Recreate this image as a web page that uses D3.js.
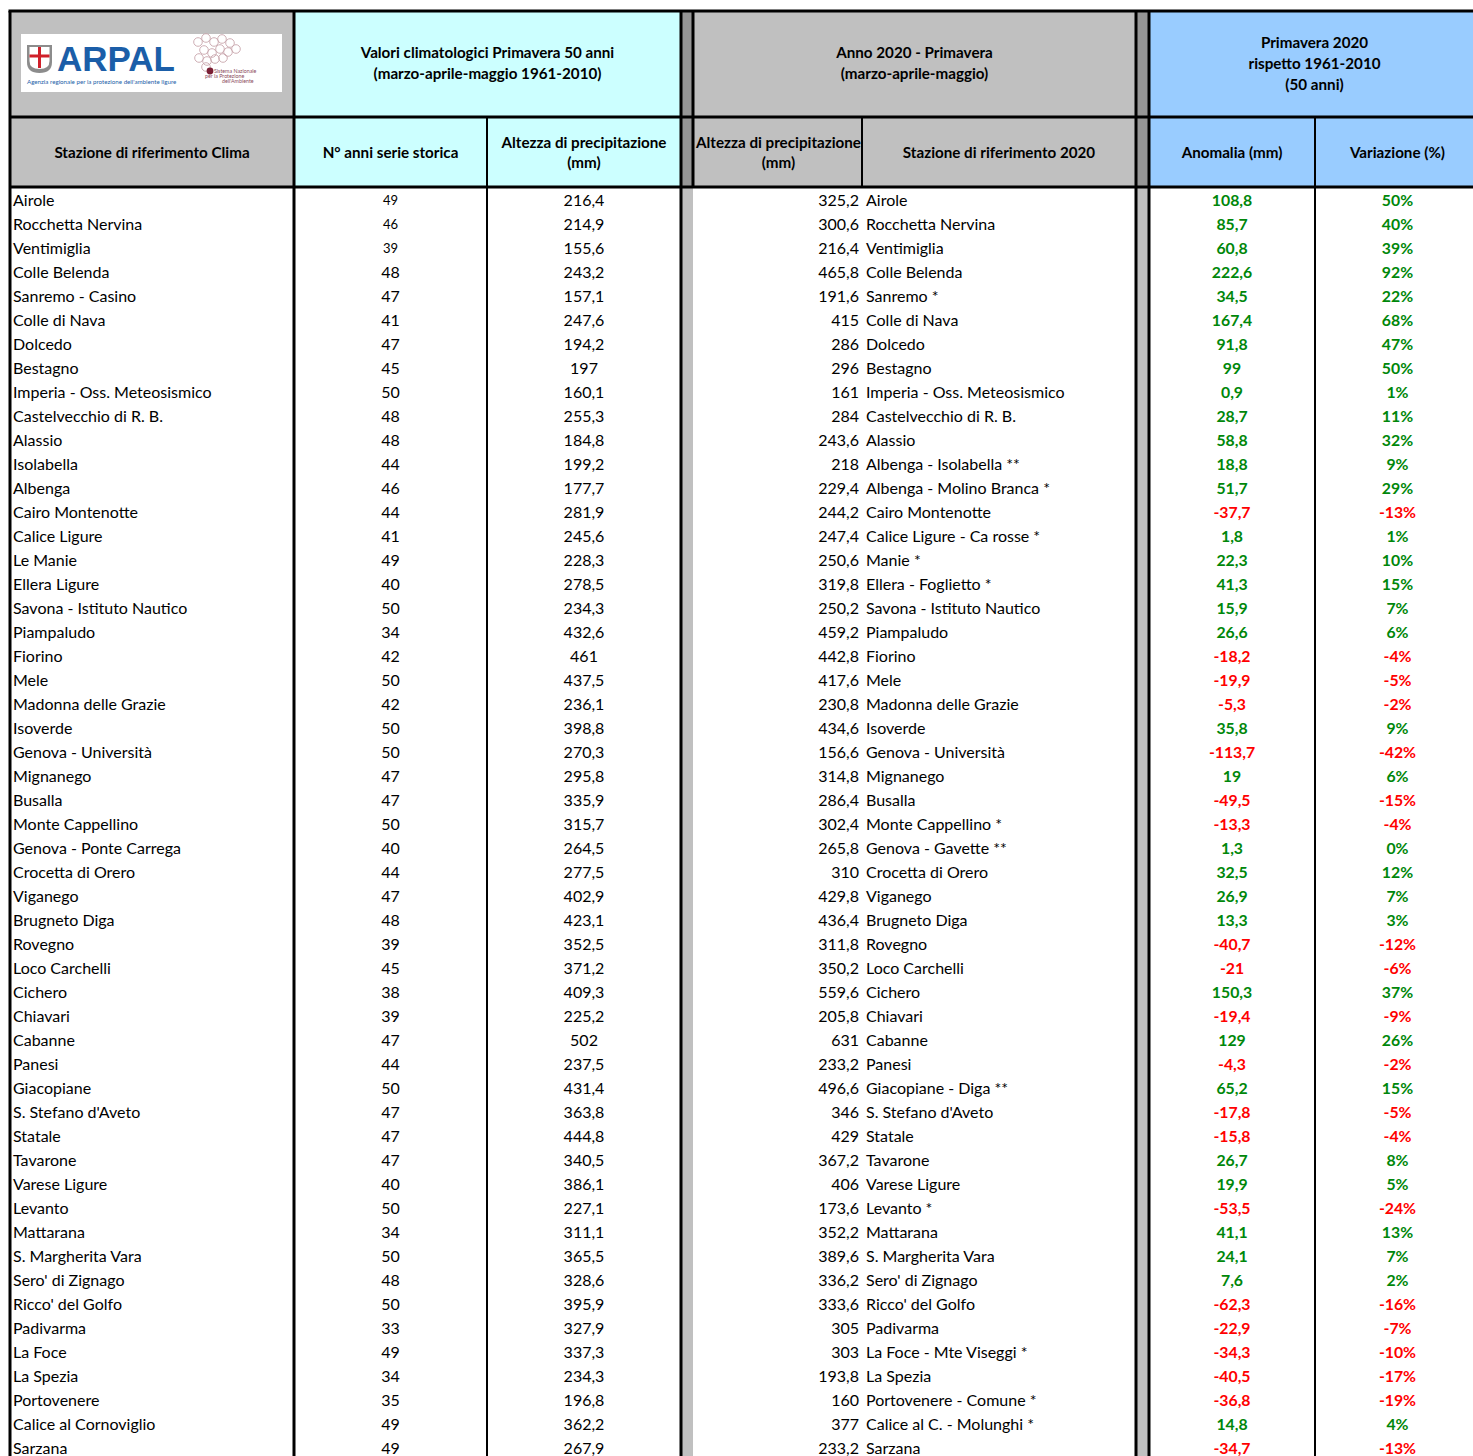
<!DOCTYPE html>
<html>
<head>
<meta charset="utf-8">
<script src="https://cdn.jsdelivr.net/npm/d3@7"></script>
<style>
  body { margin: 0; background: #fff; }
  svg { display: block; }
  text { font-family: Lato, "Noto Sans", sans-serif; }
</style>
</head>
<body>
<svg id="svg" width="1473" height="1456"></svg>
<script>

// stazioni di riferimento clima (1961-2010)
var stazioniClima = ["Airole","Rocchetta Nervina","Ventimiglia","Colle Belenda","Sanremo - Casino","Colle di Nava","Dolcedo","Bestagno",
  "Imperia - Oss. Meteosismico","Castelvecchio di R. B.","Alassio","Isolabella","Albenga","Cairo Montenotte","Calice Ligure","Le Manie",
  "Ellera Ligure","Savona - Istituto Nautico","Piampaludo","Fiorino","Mele","Madonna delle Grazie","Isoverde","Genova - Università",
  "Mignanego","Busalla","Monte Cappellino","Genova - Ponte Carrega","Crocetta di Orero","Viganego","Brugneto Diga","Rovegno",
  "Loco Carchelli","Cichero","Chiavari","Cabanne","Panesi","Giacopiane","S. Stefano d'Aveto","Statale","Tavarone","Varese Ligure",
  "Levanto","Mattarana","S. Margherita Vara","Sero' di Zignago","Ricco' del Golfo","Padivarma","La Foce","La Spezia","Portovenere",
  "Calice al Cornoviglio","Sarzana"]

var anniSerie = [49,46,39,48,47,41,47,45,50,48,48,44,46,44,41,49,40,50,34,42,50,42,50,50,47,47,50,40,44,47,48,39,45,38,39,47,44,50,
  47,47,47,40,50,34,50,48,50,33,49,34,35,49,49]

var precClima = [216.4,214.9,155.6,243.2,157.1,247.6,194.2,197,160.1,255.3,184.8,199.2,177.7,281.9,245.6,228.3,278.5,234.3,432.6,461,
  437.5,236.1,398.8,270.3,295.8,335.9,315.7,264.5,277.5,402.9,423.1,352.5,371.2,409.3,225.2,502,237.5,431.4,363.8,444.8,340.5,386.1,
  227.1,311.1,365.5,328.6,395.9,327.9,337.3,234.3,196.8,362.2,267.9]

var prec2020 = [325.2,300.6,216.4,465.8,191.6,415,286,296,161,284,243.6,218,229.4,244.2,247.4,250.6,319.8,250.2,459.2,442.8,417.6,230.8,
  434.6,156.6,314.8,286.4,302.4,265.8,310,429.8,436.4,311.8,350.2,559.6,205.8,631,233.2,496.6,346,429,367.2,406,173.6,352.2,389.6,
  336.2,333.6,305,303,193.8,160,377,233.2]

var stazioni2020 = ["Airole","Rocchetta Nervina","Ventimiglia","Colle Belenda","Sanremo *","Colle di Nava","Dolcedo","Bestagno",
  "Imperia - Oss. Meteosismico","Castelvecchio di R. B.","Alassio","Albenga - Isolabella **","Albenga - Molino Branca *","Cairo Montenotte",
  "Calice Ligure - Ca rosse *","Manie *","Ellera - Foglietto *","Savona - Istituto Nautico","Piampaludo","Fiorino","Mele",
  "Madonna delle Grazie","Isoverde","Genova - Università","Mignanego","Busalla","Monte Cappellino *","Genova - Gavette **",
  "Crocetta di Orero","Viganego","Brugneto Diga","Rovegno","Loco Carchelli","Cichero","Chiavari","Cabanne","Panesi",
  "Giacopiane - Diga **","S. Stefano d'Aveto","Statale","Tavarone","Varese Ligure","Levanto *","Mattarana","S. Margherita Vara",
  "Sero' di Zignago","Ricco' del Golfo","Padivarma","La Foce - Mte Viseggi *","La Spezia","Portovenere - Comune *",
  "Calice al C. - Molunghi *","Sarzana"]

var anomalia = [108.8,85.7,60.8,222.6,34.5,167.4,91.8,99,0.9,28.7,58.8,18.8,51.7,-37.7,1.8,22.3,41.3,15.9,26.6,-18.2,-19.9,-5.3,35.8,
  -113.7,19,-49.5,-13.3,1.3,32.5,26.9,13.3,-40.7,-21,150.3,-19.4,129,-4.3,65.2,-17.8,-15.8,26.7,19.9,-53.5,41.1,24.1,7.6,-62.3,-22.9,
  -34.3,-40.5,-36.8,14.8,-34.7]

var variazione = [50,40,39,92,22,68,47,50,1,11,32,9,29,-13,1,10,15,7,6,-4,-5,-2,9,-42,6,-15,-4,0,12,7,3,-12,-6,37,-9,26,-2,15,-5,-4,
  8,5,-24,13,7,2,-16,-7,-10,-17,-19,4,-13]

var W = 1473, H = 1456
var svg = d3.select("#svg")

var fmt = v => String(v).replace(".", ",")
var verde = "#00870a", rosso = "#ff0000"
var grigio = "#c0c0c0", grigioScuro = "#969696", ciano = "#ccffff", azzurro = "#99ccff"

// column edges
var xL = 10, xC1 = 294, xC2 = 487, xS1 = 681, xS1e = 693, xC4 = 862, xS2 = 1136, xS2e = 1149, xC6 = 1315, xR = 1480
var yTop = 11, yH1 = 117, yH2 = 187

var rows = d3.range(stazioniClima.length)
var y = d3.scaleBand().domain(rows).range([yH2, yH2 + 24 * rows.length])

// header backgrounds
var hdr = svg.append("g")
hdr.append("rect").attr("x", xL).attr("y", yTop).attr("width", xC1 - xL).attr("height", yH2 - yTop).attr("fill", grigio)
hdr.append("rect").attr("x", xC1).attr("y", yTop).attr("width", xS1 - xC1).attr("height", yH2 - yTop).attr("fill", ciano)
hdr.append("rect").attr("x", xS1).attr("y", yTop).attr("width", xS1e - xS1).attr("height", yH2 - yTop).attr("fill", grigioScuro)
hdr.append("rect").attr("x", xS1e).attr("y", yTop).attr("width", xS2 - xS1e).attr("height", yH2 - yTop).attr("fill", grigio)
hdr.append("rect").attr("x", xS2).attr("y", yTop).attr("width", xS2e - xS2).attr("height", yH2 - yTop).attr("fill", grigioScuro)
hdr.append("rect").attr("x", xS2e).attr("y", yTop).attr("width", xR - xS2e).attr("height", yH2 - yTop).attr("fill", azzurro)

// separator columns in body
svg.append("rect").attr("x", xS1).attr("y", yH2).attr("width", xS1e - xS1).attr("height", H - yH2).attr("fill", grigio)
svg.append("rect").attr("x", xS2).attr("y", yH2).attr("width", xS2e - xS2).attr("height", H - yH2).attr("fill", grigio)

// logo
var logo = svg.append("g")
logo.append("rect").attr("x", 21).attr("y", 34).attr("width", 261).attr("height", 58).attr("fill", "#fff")
logo.append("path").attr("d", "M27,45 L52,45 L52,62 Q52,73 39.5,73 Q27,73 27,62 Z").attr("fill", "#8c8c8c")
logo.append("path").attr("d", "M29.5,47 L49.5,47 L49.5,61 Q49.5,69 39.5,69 Q29.5,69 29.5,61 Z").attr("fill", "#fff")
logo.append("rect").attr("x", 38).attr("y", 47).attr("width", 3).attr("height", 21).attr("fill", "#d0202a")
logo.append("rect").attr("x", 29.5).attr("y", 54.5).attr("width", 20).attr("height", 3).attr("fill", "#d0202a")
logo.append("text").attr("x", 57).attr("y", 71).attr("font-size", 35).attr("font-weight", 900)
  .attr("fill", "#1b5ea8").style("font-family", "'Liberation Sans', Arial, sans-serif").text("ARPAL")
logo.append("text").attr("x", 27).attr("y", 84).attr("font-size", 6.2).attr("fill", "#1b5ea8")
  .text("Agenzia regionale per la protezione dell'ambiente ligure")
var hexes = [[198,42],[206,38],[214,42],[222,39],[230,43],[204,50],[212,53],[220,49],[228,52],[236,49],
  [199,58],[207,61],[215,59],[223,58],[206,67]]
logo.selectAll("circle.hex").data(hexes).enter().append("circle").attr("class", "hex")
  .attr("cx", d => d[0]).attr("cy", d => d[1]).attr("r", 4.3).attr("fill", "none").attr("stroke", "#c8a6ad").attr("stroke-width", 0.9)
logo.append("circle").attr("cx", 210).attr("cy", 71).attr("r", 3.4).attr("fill", "#7a1f35")
logo.selectAll("text.sn").data(["Sistema Nazionale", "per la Protezione", "dell'Ambiente"]).enter().append("text").attr("class", "sn")
  .attr("x", (d, i) => [214, 205, 222][i]).attr("y", (d, i) => 73 + i * 5).attr("font-size", 5.3).attr("fill", "#8a4a5a").text(d => d)

// header texts
function hText(cx, cy, lines, lh) {
  var t = svg.append("text").attr("x", cx).attr("text-anchor", "middle").attr("font-size", 15.2).attr("font-weight", 700).attr("fill", "#000")
  lines.forEach((l, i) => {
    t.append("tspan").attr("x", cx).attr("y", cy + (i - (lines.length - 1) / 2) * lh).attr("dy", "0.35em").text(l)
  })
}
hText((xC1 + xS1) / 2, 63.5, ["Valori climatologici Primavera 50 anni", "(marzo-aprile-maggio 1961-2010)"], 21)
hText((xS1e + xS2) / 2, 63.5, ["Anno 2020 - Primavera", "(marzo-aprile-maggio)"], 21)
hText((xS2e + xR) / 2, 63.5, ["Primavera 2020", "rispetto 1961-2010", "(50 anni)"], 21)
hText((xL + xC1) / 2, 153, ["Stazione di riferimento Clima"], 20)
hText((xC1 + xC2) / 2, 153, ["N° anni serie storica"], 20)
hText((xC2 + xS1) / 2, 153, ["Altezza di precipitazione", "(mm)"], 20)
hText((xS1e + xC4) / 2 + 1, 153, ["Altezza di precipitazione", "(mm)"], 20)
hText((xC4 + xS2) / 2, 153, ["Stazione di riferimento 2020"], 20)
hText((xS2e + xC6) / 2, 153, ["Anomalia (mm)"], 20)
hText((xC6 + xR) / 2, 153, ["Variazione (%)"], 20)

// body rows
var body = svg.append("g").attr("font-size", 16).attr("fill", "#000")
var row = body.selectAll("g.row").data(rows).enter().append("g").attr("class", "row")
  .attr("transform", i => "translate(0," + (y(i) + y.bandwidth() / 2 + 1.5) + ")")
row.append("text").attr("x", 13).attr("dy", "0.35em").text(i => stazioniClima[i])
row.append("text").attr("x", (xC1 + xC2) / 2).attr("dy", "0.35em").attr("text-anchor", "middle")
  .attr("font-size", i => i < 3 ? 13 : 16).text(i => anniSerie[i])
row.append("text").attr("x", (xC2 + xS1) / 2).attr("dy", "0.35em").attr("text-anchor", "middle").text(i => fmt(precClima[i]))
row.append("text").attr("x", 859).attr("dy", "0.35em").attr("text-anchor", "end").text(i => fmt(prec2020[i]))
row.append("text").attr("x", 866).attr("dy", "0.35em").text(i => stazioni2020[i])
row.append("text").attr("x", (xS2e + xC6) / 2).attr("dy", "0.35em").attr("text-anchor", "middle").attr("font-weight", 700)
  .attr("font-size", 15.8).attr("fill", i => anomalia[i] < 0 ? rosso : verde).text(i => fmt(anomalia[i]))
row.append("text").attr("x", (xC6 + xR) / 2).attr("dy", "0.35em").attr("text-anchor", "middle").attr("font-weight", 700)
  .attr("font-size", 15.8).attr("fill", i => variazione[i] < 0 ? rosso : verde).text(i => variazione[i] + "%")

// grid lines
var lines = svg.append("g").attr("stroke", "#000")
function hl(x1, x2, yy, w) { lines.append("line").attr("x1", x1).attr("x2", x2).attr("y1", yy).attr("y2", yy).attr("stroke-width", w) }
function vl(xx, y1, y2, w) { lines.append("line").attr("x1", xx).attr("x2", xx).attr("y1", y1).attr("y2", y2).attr("stroke-width", w) }
hl(xL - 1.5, W, yTop, 3)
hl(xL, W, yH1, 3)
hl(xL, W, yH2, 3)
vl(xL, yTop, H, 3)
vl(xC1, yTop, H, 3)
vl(xC2, yH1, H, 2)
vl(xS1, yTop, H, 3)
vl(xS1e, yTop, yH2, 3)
vl(xC4, yH1, yH2, 2)
vl(xS2, yTop, H, 3)
vl(xS2e, yTop, H, 3)
vl(xC6, yH1, H, 2)

</script>
</body>
</html>
